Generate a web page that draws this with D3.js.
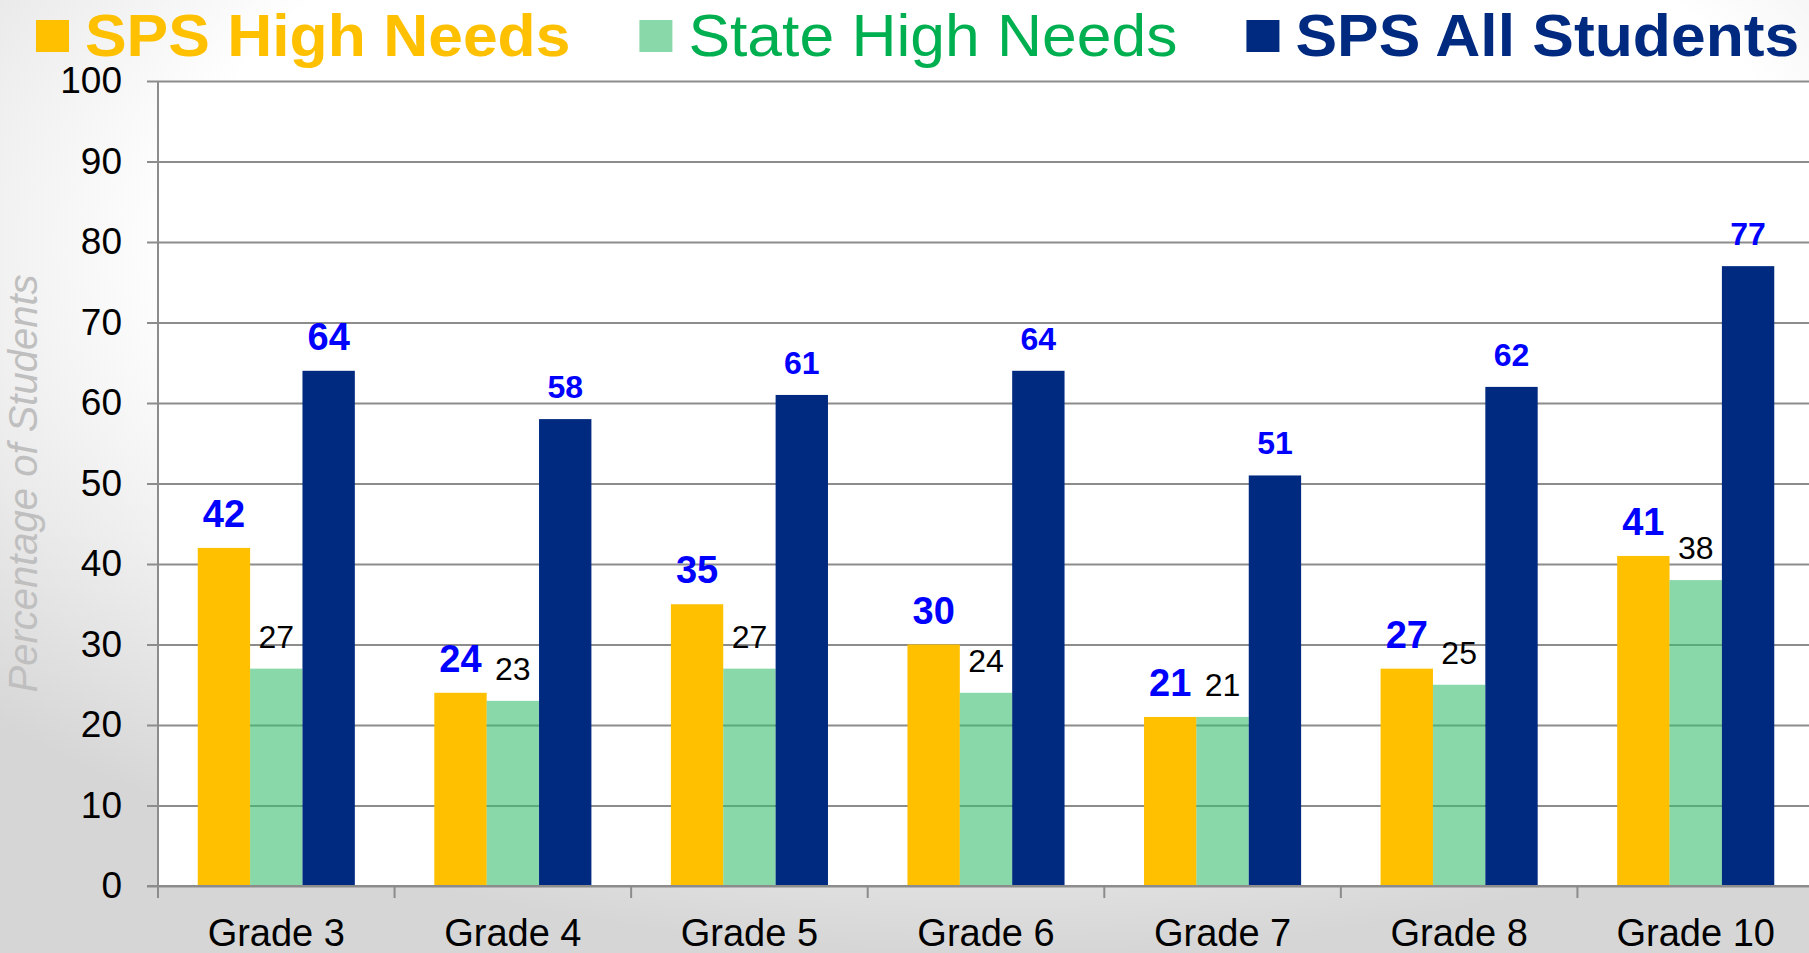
<!DOCTYPE html>
<html>
<head>
<meta charset="utf-8">
<script src="https://cdn.jsdelivr.net/npm/d3@7"></script>
<style>
  html, body { margin: 0; padding: 0; overflow: hidden; }
  body { width: 1809px; height: 953px; }
  text { font-family: "Liberation Sans", Arial, sans-serif; }
</style>
</head>
<body>
<div id="chart"></div>
<script>
//
// Data
//
var categories = ["Grade 3", "Grade 4", "Grade 5", "Grade 6", "Grade 7", "Grade 8", "Grade 10"];
var seriesNames = ["SPS High Needs", "State High Needs", "SPS All Students"];
var spsHighNeeds = [42, 24, 35, 30, 21, 27, 41];
var stateHighNeeds = [27, 23, 27, 24, 21, 25, 38];
var spsAllStudents = [64, 58, 61, 64, 51, 62, 77];
var yTicks = [0, 10, 20, 30, 40, 50, 60, 70, 80, 90, 100];

var W = 1809, H = 953;
var margin = {top: 81, left: 158, bottom: 67};
var plotRight = 1814;
var plotBottom = H - margin.bottom;

var barColors = ["#FFC000", "#39BE71", "#002A80"];
var barOpacity = [1, 0.6, 1];
var legendColors = ["#FFC000", "#00B050", "#002A80"];
var legendWeight = ["bold", "normal", "bold"];

var seriesValues = [spsHighNeeds, stateHighNeeds, spsAllStudents];
var data = categories.map(function(c, i) {
	return {cat: c, i: i, values: seriesValues.map(function(v, s) { return {s: s, value: v[i]}; })};
});

//
// Scales
//
var x0 = d3.scaleBand().domain(categories).range([margin.left, plotRight]).padding(0);
var bw = x0.bandwidth();
var x1 = d3.scaleBand().domain(d3.range(seriesNames.length)).range([bw * 0.168, bw * 0.832]).padding(0);
var y = d3.scaleLinear().domain([0, 100]).range([plotBottom, margin.top]);

var svg = d3.select("#chart").append("svg")
	.attr("width", W)
	.attr("height", H);

//
// Background with soft gray corners
//
var defs = svg.append("defs");
var grad = defs.append("radialGradient")
	.attr("id", "bg")
	.attr("cx", "55%").attr("cy", "25%").attr("r", "75%");
grad.append("stop").attr("offset", "60%").attr("stop-color", "#ffffff");
grad.append("stop").attr("offset", "100%").attr("stop-color", "#d6d6d6");

svg.append("rect")
	.attr("width", W).attr("height", H)
	.style("fill", "url(#bg)");

svg.append("rect")
	.attr("x", margin.left).attr("y", margin.top)
	.attr("width", plotRight - margin.left)
	.attr("height", plotBottom - margin.top)
	.style("fill", "#ffffff");

//
// Y axis with gridlines
//
var axisY = svg.append("g")
	.attr("transform", "translate(" + (margin.left - 11) + ",0)")
	.call(d3.axisLeft(y).tickValues(yTicks).tickSize(-(plotRight - margin.left + 11)).tickPadding(25));
axisY.select(".domain").remove();
axisY.selectAll("line").style("stroke", "#8c8c8c").style("stroke-width", 2);
axisY.selectAll("text")
	.style("font-size", "37px")
	.style("fill", "#000");

svg.append("text")
	.attr("transform", "translate(37," + ((margin.top + plotBottom) / 2) + ") rotate(-90)")
	.attr("text-anchor", "middle")
	.style("font-size", "40px")
	.style("font-style", "italic")
	.style("fill", "#bfbfbf")
	.text("Percentage of Students");

//
// Bars
//
var slice = svg.selectAll(".slice")
	.data(data)
	.enter().append("g")
	.attr("class", "slice")
	.attr("transform", function(d) { return "translate(" + x0(d.cat) + ",0)"; });

slice.selectAll("rect")
	.data(function(d) { return d.values; })
	.enter().append("rect")
	.attr("x", function(d) { return x1(d.s); })
	.attr("width", x1.bandwidth())
	.attr("y", function(d) { return y(d.value); })
	.attr("height", function(d) { return y(0) - y(d.value); })
	.style("fill", function(d) { return barColors[d.s]; })
	.style("fill-opacity", function(d) { return barOpacity[d.s]; });

// value labels
slice.selectAll(".lbl")
	.data(function(d) { return d.values.map(function(v) { return {s: v.s, value: v.value, i: d.i}; }); })
	.enter().append("text")
	.attr("class", "lbl")
	.attr("x", function(d) { return x1(d.s) + x1.bandwidth() / 2; })
	.attr("y", function(d) { return y(d.value) - 21; })
	.attr("text-anchor", "middle")
	.style("font-size", function(d) { return (d.s === 0 || (d.s === 2 && d.i === 0)) ? "38px" : "32px"; })
	.style("font-weight", function(d) { return d.s === 1 ? "normal" : "bold"; })
	.style("fill", function(d) { return d.s === 1 ? "#000" : "#0000ff"; })
	.text(function(d) { return d.value; });

//
// Axis lines and X axis
//
svg.append("line")
	.attr("x1", margin.left).attr("x2", margin.left)
	.attr("y1", margin.top).attr("y2", plotBottom)
	.style("stroke", "#8c8c8c").style("stroke-width", 2);

svg.append("line")
	.attr("x1", margin.left - 11).attr("x2", plotRight)
	.attr("y1", plotBottom).attr("y2", plotBottom)
	.style("stroke", "#8c8c8c").style("stroke-width", 2);

svg.selectAll(".xtick")
	.data(categories)
	.enter().append("line")
	.attr("class", "xtick")
	.attr("x1", function(d) { return x0(d); })
	.attr("x2", function(d) { return x0(d); })
	.attr("y1", plotBottom).attr("y2", plotBottom + 12)
	.style("stroke", "#8c8c8c").style("stroke-width", 2);

var axisX = svg.append("g")
	.attr("transform", "translate(0," + plotBottom + ")")
	.call(d3.axisBottom(x0).tickSize(0).tickPadding(33));
axisX.select(".domain").remove();
axisX.selectAll("text")
	.style("font-size", "38px")
	.style("fill", "#000");

//
// Legend (text slightly widened like the original)
//
var lx = 36;
seriesNames.forEach(function(name, s) {
	svg.append("rect")
		.attr("x", lx).attr("y", 20)
		.attr("width", 33).attr("height", 32)
		.style("fill", barColors[s])
		.style("fill-opacity", barOpacity[s]);
	var tx = lx + 49;
	var t = svg.append("text")
		.attr("transform", "translate(" + tx + ",56) scale(1.04,1)")
		.style("font-size", "60px")
		.style("font-weight", legendWeight[s])
		.style("fill", legendColors[s])
		.text(name);
	lx = tx + t.node().getComputedTextLength() * 1.04 + 69;
});
</script>
</body>
</html>
